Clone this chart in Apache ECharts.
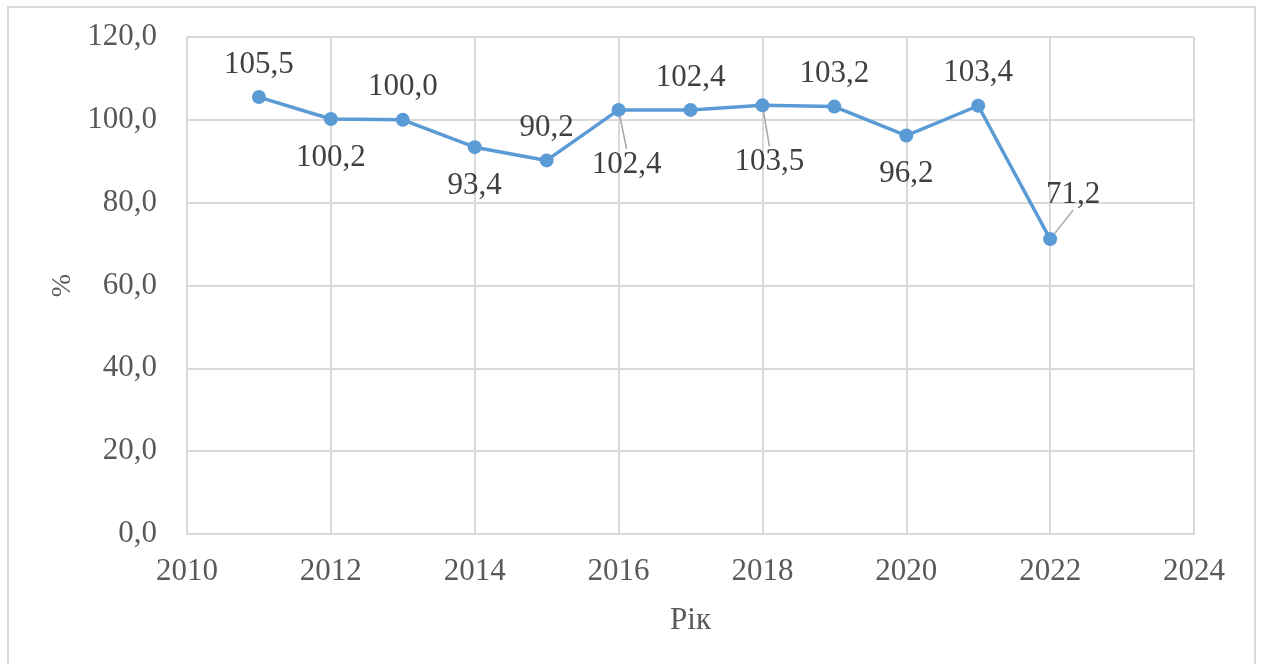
<!DOCTYPE html>
<html>
<head>
<meta charset="utf-8">
<script src="https://cdn.jsdelivr.net/npm/echarts@6/dist/echarts.min.js"></script>
<style>html,body{margin:0;padding:0;background:#fff;}#c{width:1261px;height:664px;}</style>
</head>
<body>
<div id="c"></div>
<script>
var years = [2011, 2012, 2013, 2014, 2015, 2016, 2017, 2018, 2019, 2020, 2021, 2022];
var values = [105.5, 100.2, 100.0, 93.4, 90.2, 102.4, 102.4, 103.5, 103.2, 96.2, 103.4, 71.2];
var xTicks = [2010, 2012, 2014, 2016, 2018, 2020, 2022, 2024];
var yTicks = [0, 20, 40, 60, 80, 100, 120];
var labelPlace = ['top', 'bottom', 'top', 'bottom', 'top', 'bottom', 'top', 'bottom', 'top', 'bottom', 'top', 'top'];
var leader = [false, false, false, false, false, true, false, true, false, false, false, true];

var FONT = '"Liberation Serif", "Times New Roman", serif';
var chart = echarts.init(document.getElementById('c'), null, {renderer: 'canvas'});

var data = years.map(function (y, i) {
  var item = {
    value: [y, values[i]],
    label: {position: labelPlace[i], distance: labelPlace[i] === 'bottom' ? 16 : 10}
  };
  item.labelLine = {show: leader[i]};
  return item;
});

var fmt = function (v) { return v.toFixed(1).replace('.', ','); };

chart.setOption({
  animation: false,
  backgroundColor: '#fff',
  graphic: [{
    type: 'rect',
    shape: {x: 8, y: 7, width: 1247, height: 670},
    style: {fill: 'none', stroke: '#d9d9d9', lineWidth: 2},
    silent: true
  }],
  grid: {left: 187, right: 67, top: 37, bottom: 130},
  xAxis: {
    type: 'value',
    min: xTicks[0], max: xTicks[xTicks.length - 1], interval: 2,
    name: 'Рік', nameLocation: 'middle', nameGap: 71,
    nameTextStyle: {fontFamily: FONT, fontSize: 31, color: '#595959'},
    axisLine: {show: true, lineStyle: {color: '#d9d9d9', width: 2}},
    axisTick: {show: false},
    splitLine: {show: true, lineStyle: {color: '#d9d9d9', width: 2}},
    axisLabel: {fontFamily: FONT, fontSize: 31, color: '#595959', margin: 22,
      formatter: function (v) { return String(v); }}
  },
  yAxis: {
    type: 'value',
    min: yTicks[0], max: yTicks[yTicks.length - 1], interval: 20,
    name: '%', nameLocation: 'middle', nameGap: 110, nameRotate: 90,
    nameTextStyle: {fontFamily: FONT, fontSize: 28, color: '#595959'},
    axisLine: {show: false},
    axisTick: {show: false},
    splitLine: {show: true, lineStyle: {color: '#d9d9d9', width: 2}},
    axisLabel: {fontFamily: FONT, fontSize: 31, color: '#595959', margin: 30,
      formatter: fmt}
  },
  series: [{
    type: 'line',
    data: data,
    symbol: 'circle',
    symbolSize: 14,
    itemStyle: {color: '#5b9bd5'},
    lineStyle: {color: '#5b9bd5', width: 3.5},
    label: {
      show: true,
      fontFamily: FONT, fontSize: 31, color: '#404040',
      formatter: function (p) { return fmt(p.value[1]); }
    },
    labelLine: {show: false, lineStyle: {color: '#a6a6a6', width: 1.5}},
    labelLayout: function (p) {
      var i = p.dataIndex;
      if (i === 5) return {dx: 8, dy: 16};
      if (i === 7) return {dx: 7, dy: 18};
      if (i === 11) return {dx: 23, dy: -12};
      return {};
    }
  }]
});
</script>
</body>
</html>
